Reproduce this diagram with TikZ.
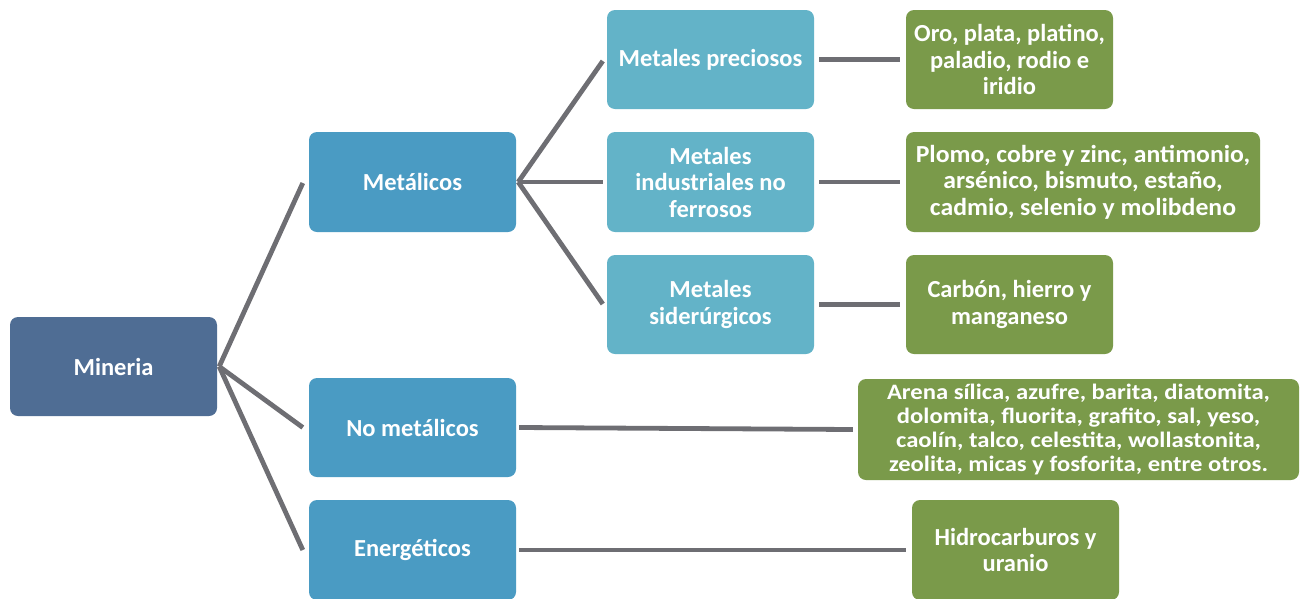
\documentclass[tikz,border=0pt]{standalone}
\usepackage{fontspec}
\setmainfont{Carlito}
\definecolor{cMin}{HTML}{4F6D94}
\definecolor{cMid}{HTML}{4A9BC3}
\definecolor{cLight}{HTML}{63B3C8}
\definecolor{cGreen}{HTML}{7A9A4A}
\definecolor{cLine}{HTML}{6E6E73}
\newcommand\mytightlines{\lineskiplimit=-100pt\relax\lineskip=0pt\relax}
\begin{document}
\begin{tikzpicture}[x=1pt,y=-1pt,
  box/.style={rounded corners=8pt, text=white, align=center, inner sep=1pt,
    font=\fontsize{24.5}{26.5}\selectfont\bfseries, minimum height=99pt},
  rootbox/.style={box, fill=cMin, minimum width=207pt},
  midbox/.style={box, fill=cMid, minimum width=207pt},
  lightbox/.style={box, fill=cLight, minimum width=207pt},
  greenbox/.style={box, fill=cGreen},
  widetext/.style={font=\fontsize{24.5}{26.5}\selectfont\bfseries\addfontfeature{FakeStretch=1.05}},
  tighttext/.style={font=\fontsize{22}{23.8}\selectfont\bfseries\addfontfeature{FakeStretch=1.12}\mytightlines},
  conn/.style={draw=cLine, line width=4.8pt}
]
\useasboundingbox (0,0) rectangle (1300,598);
\begin{scope}
\clip (0,0) rectangle (1300,598);
\node[rootbox] (min) at (113.5,366.5) {Mineria};
\node[midbox, minimum height=100pt] (met) at (412.5,182) {Metálicos};
\node[midbox] (nomet) at (412.5,427.5) {No metálicos};
\node[midbox, minimum height=100pt] (ene) at (412.5,550) {Energéticos};
\node[lightbox] (prec) at (710.5,59.5) {Metales preciosos};
\node[lightbox, minimum height=100pt] (ind) at (710.5,182) {Metales\\industriales no\\ferrosos};
\node[lightbox] (sid) at (710.5,304.5) {Metales\\siderúrgicos};
\node[greenbox, minimum width=207pt] (oro) at (1009.5,59.5) {Oro, plata, platino,\\paladio, rodio e\\iridio};
\node[greenbox, widetext, minimum width=354pt, minimum height=100pt] (plo) at (1083,182) {Plomo, cobre y zinc, antimonio,\\arsénico, bismuto, estaño,\\cadmio, selenio y molibdeno};
\node[greenbox, minimum width=207pt] (car) at (1009.5,304.5) {Carbón, hierro y\\manganeso};
\node[greenbox, tighttext, minimum width=441pt, minimum height=101pt] (are) at (1078.5,429.5) {Arena sílica, azufre, barita, diatomita,\\dolomita, fluorita, grafito, sal, yeso,\\caolín, talco, celestita, wollastonita,\\zeolita, micas y fosforita, entre otros.};
\node[greenbox, minimum width=207pt, minimum height=100pt] (hid) at (1015.5,550) {Hidrocarburos y\\uranio};
\end{scope}
\draw[conn] ([xshift=2pt]min.east) -- ([xshift=-6pt,yshift=-1pt]met.west);
\draw[conn] ([xshift=2pt]min.east) -- ([xshift=-6pt]nomet.west);
\draw[conn] ([xshift=2pt]min.east) -- ([xshift=-6pt]ene.west);
\draw[conn] ([xshift=2pt]met.east) -- ([xshift=-4pt,yshift=-1.5pt]prec.west);
\draw[conn] ([xshift=2pt]met.east) -- ([xshift=-4pt]ind.west);
\draw[conn] ([xshift=2pt]met.east) -- ([xshift=-4pt,yshift=0.5pt]sid.west);
\draw[conn] ([xshift=5pt]prec.east) -- ([xshift=-6pt]oro.west);
\draw[conn] ([xshift=5pt]ind.east) -- ([xshift=-6pt]plo.west);
\draw[conn] ([xshift=5pt]sid.east) -- ([xshift=-6pt]car.west);
\draw[conn] ([xshift=3pt]nomet.east) -- ([xshift=-5pt]are.west);
\draw[conn] ([xshift=3pt]ene.east) -- ([xshift=-6pt]hid.west);
\end{tikzpicture}
\end{document}
